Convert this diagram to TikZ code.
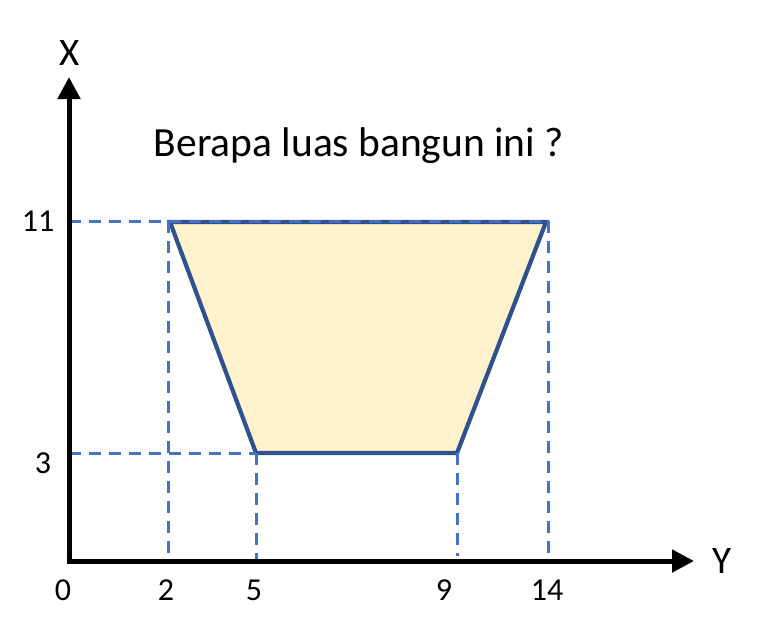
\documentclass[tikz,border=0pt]{standalone}
\usepackage{fontspec}
\setmainfont{Carlito}
\usetikzlibrary{arrows.meta}
\definecolor{shapefill}{HTML}{FFF2CC}
\definecolor{shapeedge}{HTML}{2F528F}
\definecolor{guide}{HTML}{4472C4}
\tikzset{
  guideline/.style={draw=guide, line width=3pt, dash pattern=on 12pt off 8pt},
  axisline/.style={draw=black, line width=5pt, -{Triangle[length=22pt,width=22pt]}},
  ticklabel/.style={inner sep=0pt, font=\fontsize{32}{36}\selectfont},
  axislabel/.style={inner sep=0pt, font=\fontsize{39}{44}\selectfont},
  titlelabel/.style={inner sep=0pt, font=\fontsize{41.5}{46}\selectfont},
}
\begin{document}
\begin{tikzpicture}[x=1pt,y=-1pt]
\useasboundingbox (0,0) rectangle (759,634);
% corners
\coordinate (TL) at (170,222);
\coordinate (TR) at (546,222);
\coordinate (BR) at (457,453);
\coordinate (BL) at (256,453);
\coordinate (O) at (69,561);
\coordinate (Xend) at (69,77);
\coordinate (Yend) at (694,561);
\coordinate (X11) at (69,221);
\coordinate (X3) at (69,453);
\coordinate (H11) at (548,221);
\coordinate (V2t) at (168,221);
\coordinate (V2b) at (168,561);
\coordinate (V5b) at (256,561);
\coordinate (V9b) at (457,556);
\coordinate (V14t) at (548,221);
\coordinate (V14b) at (548,561);
% shape
\fill[shapefill] (TL) -- (TR) -- (BR) -- (BL) -- cycle;
\draw[shapeedge, line width=4.2pt, line join=miter] (TL) -- (TR) -- (BR) -- (BL) -- cycle;
% guides
\draw[guideline] (X11) -- (H11);
\draw[guideline] (X3) -- (BL);
\draw[guideline] (V2t) -- (V2b);
\draw[guideline] (BL) -- (V5b);
\draw[guideline] (BR) -- (V9b);
\draw[guideline] (V14t) -- (V14b);
% axes
\draw[axisline] ([yshift=-2.5pt]O) -- (Xend);
\draw[axisline] ([xshift=-2.5pt]O) -- (Yend);
% labels
\node[axislabel] (lx) at (70,53) {X};
\node[axislabel] (ly) at (722,561) {Y};
\node[ticklabel] (l11) at (38,221) {11};
\node[ticklabel] (l3) at (43,463) {3};
\node[ticklabel] (l0) at (63,590) {0};
\node[ticklabel] (l2) at (166,590) {2};
\node[ticklabel] (l5) at (254,590) {5};
\node[ticklabel] (l9) at (444,590) {9};
\node[ticklabel] (l14) at (547,590) {14};
\node[titlelabel, anchor=base] (title) at (359,156) {Berapa luas bangun ini ?};
\end{tikzpicture}
\end{document}
